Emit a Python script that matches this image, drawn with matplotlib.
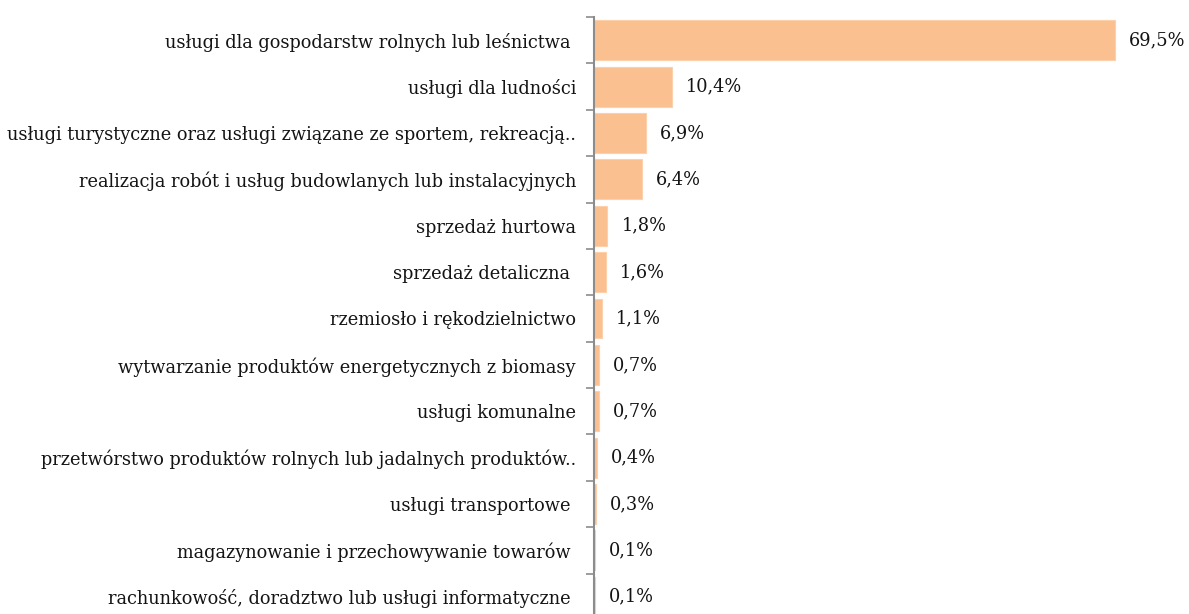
import matplotlib
matplotlib.use("Agg")
import matplotlib.pyplot as plt

categories = [
    "usługi dla gospodarstw rolnych lub leśnictwa ",
    "usługi dla ludności",
    "usługi turystyczne oraz usługi związane ze sportem, rekreacją..",
    "realizacja robót i usług budowlanych lub instalacyjnych",
    "sprzedaż hurtowa",
    "sprzedaż detaliczna ",
    "rzemiosło i rękodzielnictwo",
    "wytwarzanie produktów energetycznych z biomasy",
    "usługi komunalne",
    "przetwórstwo produktów rolnych lub jadalnych produktów..",
    "usługi transportowe ",
    "magazynowanie i przechowywanie towarów ",
    "rachunkowość, doradztwo lub usługi informatyczne ",
]
values = [69.5, 10.4, 6.9, 6.4, 1.8, 1.6, 1.1, 0.7, 0.7, 0.4, 0.3, 0.1, 0.1]

plt.rcParams['font.family'] = ['DejaVu Serif']

W, H = 1189, 614
fig = plt.figure(figsize=(W / 100, H / 100), dpi=100)
left = 594 / W
right = 1189 / W
top = 1 - 17 / H
bottom = 1 - 620 / H
ax = fig.add_axes([left, bottom, right - left, top - bottom])

n = len(categories)
pos = list(range(n))
ax.barh(pos, values, height=0.86, color='#FAC090', edgecolor='#FBD0AA', linewidth=0.8)
ax.set_ylim(n - 0.5, -0.5)
ax.set_xlim(0, 69.5 * (1189 - 594) / (1115 - 594))

fs = 12.8
ax.set_yticks(pos)
ax.set_yticklabels(categories, fontsize=fs, color='#141414')
ax.tick_params(axis='y', length=0, pad=13)
ax.set_yticks([i + 0.5 for i in range(-1, n)], minor=True)
ax.tick_params(axis='y', which='minor', length=6, width=1.2, color='#8c8c8c', direction='out')
ax.set_xticks([])
for s in ['top', 'right', 'bottom']:
    ax.spines[s].set_visible(False)
ax.spines['left'].set_color('#8c8c8c')
ax.spines['left'].set_linewidth(1.5)

for p, v in zip(pos, values):
    ax.annotate(f"{v:.1f}%".replace('.', ','), xy=(v, p), xytext=(14, 0),
                textcoords='offset pixels',
                va='center', ha='left', fontsize=fs, color='#141414')

fig.savefig('out.png', dpi=100)
